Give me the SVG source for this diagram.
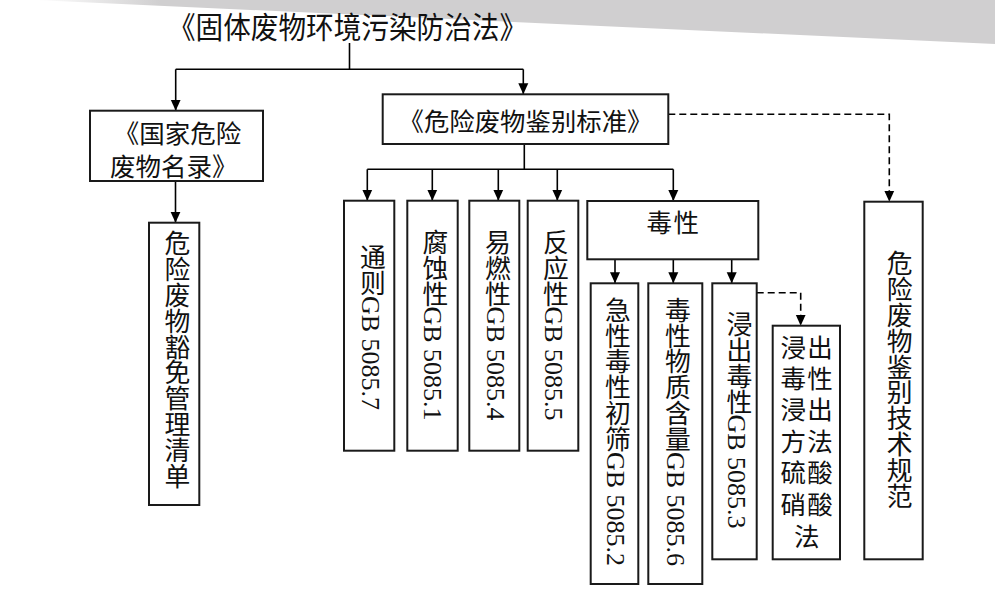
<svg xmlns="http://www.w3.org/2000/svg" width="995" height="611" viewBox="0 0 995 611">
<defs>
<linearGradient id="bgfade" x1="35" y1="0" x2="160" y2="0" gradientUnits="userSpaceOnUse">
<stop offset="0" stop-color="#ffffff"/>
<stop offset="1" stop-color="#d0cfd0"/>
</linearGradient>
<marker id="ah" markerUnits="userSpaceOnUse" markerWidth="12" markerHeight="12" viewBox="-6 -11 12 12" refX="0" refY="0" orient="0">
<path d="M-5,-11 L5,-11 L0,0 Z" fill="#000"/>
</marker>
<style>
.box{fill:#fff;stroke:#1a1a1a;stroke-width:2}
.ln{fill:none;stroke:#000;stroke-width:1.6}
.dash{fill:none;stroke:#000;stroke-width:1.6;stroke-dasharray:7,4}
.vt{font-family:"Liberation Serif","Noto Sans CJK SC","Noto Sans CJK JP",serif;font-size:25.8px;fill:#111;writing-mode:vertical-rl;text-orientation:mixed}
.hz{font-family:"Noto Sans CJK SC","Noto Sans CJK JP",sans-serif;font-size:25.4px;fill:#111;text-anchor:middle}
.row{font-family:"Noto Sans CJK SC","Noto Sans CJK JP",sans-serif;font-size:25.5px;fill:#111;text-anchor:middle;letter-spacing:1.2px}
.gb{font-size:26px}
.title{font-family:"Noto Sans CJK SC","Noto Sans CJK JP",sans-serif;font-size:30px;fill:#111;text-anchor:middle}
</style>
</defs>
<rect x="0" y="0" width="995" height="611" fill="#fff"/>
<polygon points="35,0 995,0 995,44" fill="url(#bgfade)"/>

<g id="connectors">
<line class="ln" x1="349.5" y1="43" x2="349.5" y2="69.3"/>
<line class="ln" x1="175.7" y1="69.3" x2="523.3" y2="69.3"/>
<line class="ln" x1="175.7" y1="69.3" x2="175.7" y2="110.7" marker-end="url(#ah)"/>
<line class="ln" x1="523.3" y1="69.3" x2="523.3" y2="94.3" marker-end="url(#ah)"/>
<line class="ln" x1="175.5" y1="181" x2="175.5" y2="222.7" marker-end="url(#ah)"/>
<line class="ln" x1="524.3" y1="144" x2="524.3" y2="169.3"/>
<line class="ln" x1="367.3" y1="169.3" x2="673.3" y2="169.3"/>
<line class="ln" x1="367.3" y1="169.3" x2="367.3" y2="200.7" marker-end="url(#ah)"/>
<line class="ln" x1="432.3" y1="169.3" x2="432.3" y2="200.7" marker-end="url(#ah)"/>
<line class="ln" x1="498.3" y1="169.3" x2="498.3" y2="200.7" marker-end="url(#ah)"/>
<line class="ln" x1="557.3" y1="169.3" x2="557.3" y2="200.7" marker-end="url(#ah)"/>
<line class="ln" x1="673.3" y1="169.3" x2="673.3" y2="201" marker-end="url(#ah)"/>
<line class="ln" x1="615" y1="259.3" x2="615" y2="283.3" marker-end="url(#ah)"/>
<line class="ln" x1="673.3" y1="259.3" x2="673.3" y2="283.3" marker-end="url(#ah)"/>
<line class="ln" x1="731.7" y1="259.3" x2="731.7" y2="283.3" marker-end="url(#ah)"/>
<polyline class="dash" points="668.3,114.3 889.3,114.3 889.3,201.7" marker-end="url(#ah)"/>
<polyline class="dash" points="756.7,292.7 800.7,292.7 800.7,325.7" marker-end="url(#ah)"/>
</g>

<g id="title">
<text class="title" x="347.5" y="38.4" textLength="359" lengthAdjust="spacingAndGlyphs">《固体废物环境污染防治法》</text>
</g>

<g id="n-minglu">
<rect class="box" x="90" y="110.7" width="173" height="70.3"/>
<text class="hz" style="font-size:25.5px" x="177.5" y="143">《国家危险</text>
<text class="hz" style="font-size:25.5px" x="173.7" y="176">废物名录》</text>
</g>

<g id="n-huomian">
<rect class="box" x="149" y="222.7" width="50.3" height="282.3"/>
<text class="vt" x="174.5" y="230.7">危险废物豁免管理清单</text>
</g>

<g id="n-biaozhun">
<rect class="box" x="382.7" y="94.3" width="285.6" height="49.7"/>
<text class="hz" x="525.5" y="131.4">《危险废物鉴别标准》</text>
</g>

<g id="n-tongze">
<rect class="box" x="344" y="200.7" width="50.3" height="250"/>
<text class="vt" x="370" y="244">通则<tspan class="gb">GB 5085.7</tspan></text>
</g>

<g id="n-fushi">
<rect class="box" x="407.3" y="200.7" width="50.4" height="250"/>
<text class="vt" x="432.5" y="229.5">腐蚀性<tspan class="gb">GB 5085.1</tspan></text>
</g>

<g id="n-yiran">
<rect class="box" x="469.3" y="200.7" width="50" height="250"/>
<text class="vt" x="495" y="229.5">易燃性<tspan class="gb">GB 5085.4</tspan></text>
</g>

<g id="n-fanying">
<rect class="box" x="527.7" y="200.7" width="50.6" height="250"/>
<text class="vt" x="553" y="229.5">反应性<tspan class="gb">GB 5085.5</tspan></text>
</g>

<g id="n-duxing">
<rect class="box" x="587.3" y="201" width="171" height="58.3"/>
<text class="hz" style="font-size:25.5px;letter-spacing:1.5px" x="673.5" y="232.2">毒性</text>
</g>

<g id="n-jixing">
<rect class="box" x="590.7" y="283.3" width="47.6" height="300.7"/>
<text class="vt" x="615" y="297">急性毒性初筛<tspan class="gb">GB 5085.2</tspan></text>
</g>

<g id="n-hanliang">
<rect class="box" x="648.3" y="283.3" width="54" height="300.7"/>
<text class="vt" x="675" y="297">毒性物质含量<tspan class="gb">GB 5085.6</tspan></text>
</g>

<g id="n-jinchu">
<rect class="box" x="712.3" y="283.3" width="44.4" height="276"/>
<text class="vt" x="736.5" y="311.5">浸出毒性<tspan class="gb">GB 5085.3</tspan></text>
</g>

<g id="n-fangfa">
<rect class="box" x="772.7" y="325.7" width="67.3" height="233.6"/>
<text class="row" x="807.3" y="357.2">浸出</text>
<text class="row" x="807.3" y="387.7">毒性</text>
<text class="row" x="807.3" y="418.7">浸出</text>
<text class="row" x="807.3" y="450.7">方法</text>
<text class="row" x="807.3" y="481.7">硫酸</text>
<text class="row" x="807.3" y="513.7">硝酸</text>
<text class="row" x="807.3" y="546.4">法</text>
</g>

<g id="n-jishu">
<rect class="box" x="864.3" y="201.7" width="58.4" height="357.6"/>
<text class="vt" x="896.7" y="250.7">危险废物鉴别技术规范</text>
</g>
</svg>
